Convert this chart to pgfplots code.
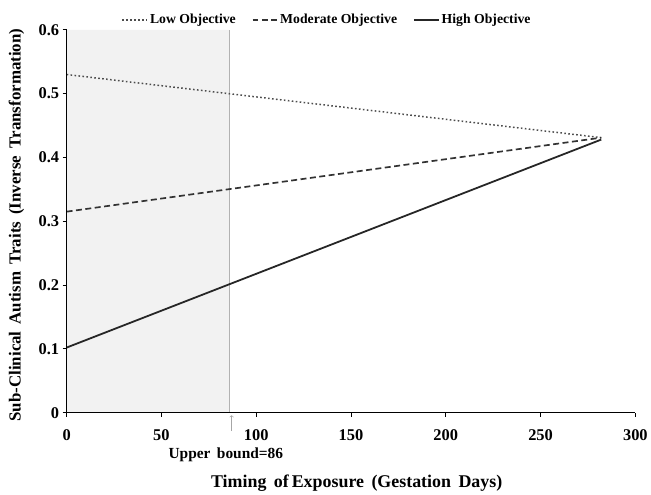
\documentclass[border=0pt]{standalone}
\usepackage{fontspec}
\setmainfont{Liberation Serif}
\usepackage{pgfplots}
\pgfplotsset{compat=1.18}

\begin{document}
\begin{tikzpicture}
\begin{axis}[
  scale only axis,
  width=572pt, height=385pt,
  xmin=0, xmax=300, ymin=0, ymax=0.6,
  axis lines=left,
  axis line style={line width=1.6pt, -},
  axis on top=true,
  xtick={0,50,...,300},
  ytick={0,0.1,...,0.6},
  tick style={black, line width=1pt},
  major tick length=4pt,
  tick align=outside,
  /pgf/number format/assume math mode=true,
  tick label style={font=\fontsize{16.5}{18}\selectfont\bfseries},
  yticklabel style={/pgf/number format/fixed},
  xticklabel style={yshift=-9pt},
  xlabel={Timing\, of\,Exposure\, (Gestation\, Days)},
  ylabel={Sub-Clinical\, Autism\, Traits\, (Inverse\, Transformation)},
  label style={font=\fontsize{17}{19}\selectfont\bfseries},
  xlabel style={at={(axis description cs:0.51,-0.183)}, anchor=center,
    font=\fontsize{18}{20}\selectfont\bfseries},
  ylabel style={at={(axis description cs:-0.088,0.49)}, anchor=center},
  legend columns=3,
  legend style={draw=none, fill=none, font=\fontsize{13.8}{15}\selectfont\bfseries,
    at={(axis description cs:0.458,1.026)}, anchor=center,
    /tikz/every even column/.append style={column sep=14pt}},
  legend image code/.code={\draw[#1] (0pt,0pt) -- (25pt,0pt);},
  clip=false,
]
\addplot[fill=gray!10, draw=none, forget plot]
  coordinates {(0,0) (0,0.6) (86,0.6) (86,0)} \closedcycle;
\addplot[gray!60, line width=0.8pt, forget plot]
  coordinates {(86,0) (86,0.6)};
\addplot[black!70, line width=1.5pt, dash pattern=on 1.6pt off 2.4pt]
  coordinates {(0,0.530) (282,0.431)};
\addlegendentry{Low Objective}
\addplot[black!80, line width=1.7pt, dash pattern=on 6pt off 3.5pt]
  coordinates {(0,0.315) (282,0.431)};
\addlegendentry{Moderate Objective}
\addplot[black!85, line width=1.8pt]
  coordinates {(0,0.102) (282,0.428)};
\addlegendentry{High Objective}
\draw[gray!70, line width=0.6pt, ->] (axis cs:87,-0.029) -- (axis cs:87,-0.004);
\node[font=\fontsize{15.5}{17}\selectfont\bfseries] at (axis cs:84,-0.066) {Upper\, bound=86};
\end{axis}
\path[use as bounding box] (current axis.south west) ++(-67pt,-81pt) rectangle ++(651pt,496pt);
\end{tikzpicture}
\end{document}
